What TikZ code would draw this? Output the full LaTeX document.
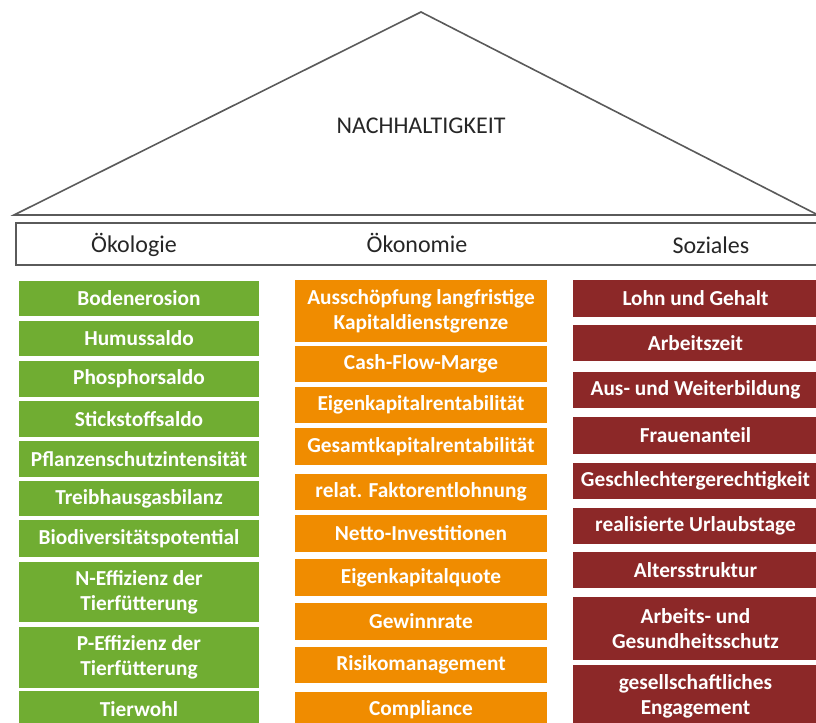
\documentclass[tikz,border=0pt]{standalone}
\usepackage{fontspec}
\setmainfont{Carlito}
\usepackage{xcolor}
\usepackage{tikz}
\usetikzlibrary{positioning}
\definecolor{oekogruen}{RGB}{112,173,50}
\definecolor{oekoorange}{RGB}{240,140,0}
\definecolor{sozialrot}{RGB}{140,40,40}
\definecolor{rahmengrau}{RGB}{90,90,90}
\def\px{0.75pt}

\begin{document}
\begin{tikzpicture}[x=0.75pt, y=-0.75pt,
    saeule/.style={inner sep=0pt, align=center, text=white,
      font=\bfseries\fontsize{16}{18.5}\selectfont},
    oekobox/.style={saeule, fill=oekogruen, minimum width=240*\px},
    oekonbox/.style={saeule, fill=oekoorange, minimum width=252*\px},
    sozbox/.style={saeule, fill=sozialrot, minimum width=245*\px},
    kopftext/.style={text=black!85, font=\fontsize{18}{20}\selectfont}]
  \useasboundingbox (0,0) rectangle (816,723);
  \clip (0,0) rectangle (816,723);
  % Dach
  \coordinate (dachlinks) at (14,215);
  \coordinate (dachspitze) at (421,12);
  \coordinate (dachrechts) at (818,215);
  \draw[rahmengrau, line width=1.2pt] (dachlinks) -- (dachspitze) -- (dachrechts) -- cycle;
  \node[kopftext] (nachhaltigkeit) at (421,126) {NACHHALTIGKEIT};
  % Kopfzeile
  \draw[rahmengrau, line width=1.5pt] (16,223) rectangle (822,265);
  \node[kopftext] (oekologie) at (134,245) {Ökologie};
  \node[kopftext] (oekonomie) at (417,243) {Ökonomie};
  \node[kopftext] (soziales) at (711,245) {Soziales};
  % Ökologie
  \foreach \i/\yc/\h/\txt in {1/298.5/35/Bodenerosion, 2/338.5/35/Humussaldo,
      3/379/36/Phosphorsaldo, 4/419/36/Stickstoffsaldo,
      5/459/36/Pflanzenschutzintensität, 6/498.5/35/Treibhausgasbilanz,
      7/538.5/37/Biodiversitätspotential, 8/592/60/{N-Effizienz der\\Tierfütterung},
      9/657.5/61/{P-Effizienz der\\Tierfütterung}, 10/709/36/Tierwohl}
    \node[oekobox, minimum height=\h*\px] (oeko\i) at (139,\yc) {\txt};
  % Ökonomie
  \foreach \i/\yc/\h/\txt in {1/311/62/{Ausschöpfung langfristige\\Kapitaldienstgrenze},
      2/364/36/Cash-Flow-Marge, 3/405/36/Eigenkapitalrentabilität,
      4/446.5/37/Gesamtkapitalrentabilität, 5/492/36/relat. Faktorentlohnung,
      6/533.5/37/Netto-Investitionen, 7/577.5/37/Eigenkapitalquote,
      8/621.5/37/Gewinnrate, 9/665/36/Risikomanagement, 10/710/36/Compliance}
    \node[oekonbox, minimum height=\h*\px] (oekon\i) at (421,\yc) {\txt};
  % Soziales
  \foreach \i/\yc/\h/\txt in {1/298.5/37/Lohn und Gehalt, 2/343/36/Arbeitszeit,
      3/390/36/Aus- und Weiterbildung, 4/435.5/37/Frauenanteil,
      5/481/36/Geschlechtergerechtigkeit, 6/526/36/realisierte Urlaubstage,
      7/570/36/Altersstruktur, 8/628.5/63/{Arbeits- und\\Gesundheitsschutz},
      9/696.5/63/{gesellschaftliches\\Engagement}}
    \node[sozbox, minimum height=\h*\px] (soz\i) at (695.5,\yc) {\txt};
\end{tikzpicture}
\end{document}
